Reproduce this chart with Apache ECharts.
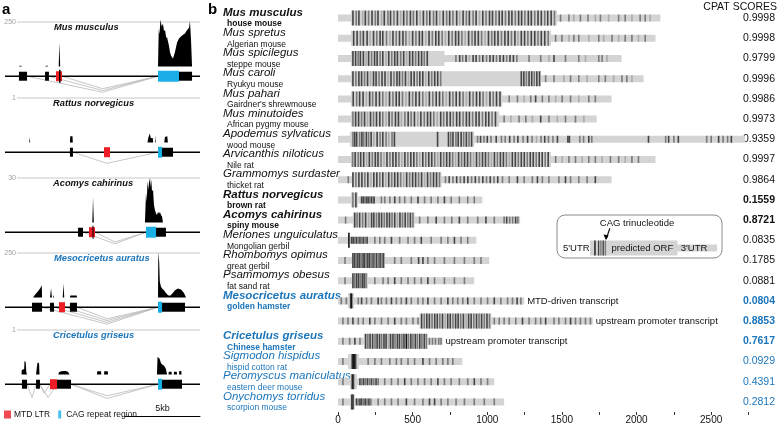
<!DOCTYPE html>
<html><head><meta charset="utf-8">
<script src="https://cdn.jsdelivr.net/npm/echarts@6/dist/echarts.min.js"></script>
<style>html,body{margin:0;padding:0;background:#fff}#c{width:778px;height:425px}</style>
</head><body><div id="c"></div>
<script>
// ================= Panel b data =================
const speciesNames = ['Mus musculus','Mus spretus','Mus spicilegus','Mus caroli','Mus pahari','Mus minutoides','Apodemus sylvaticus','Arvicanthis niloticus','Grammomys surdaster','Rattus norvegicus','Acomys cahirinus','Meriones unguiculatus','Rhombomys opimus','Psammomys obesus','Mesocricetus auratus','','Cricetulus griseus','Sigmodon hispidus','Peromyscus maniculatus','Onychomys torridus'];
const commonNames = ['house mouse','Algerian mouse','steppe mouse','Ryukyu mouse',"Gairdner's shrewmouse",'African pygmy mouse','wood mouse','Nile rat','thicket rat','brown rat','spiny mouse','Mongolian gerbil','great gerbil','fat sand rat','golden hamster','','Chinese hamster','hispid cotton rat','eastern deer mouse','scorpion mouse'];
const cpatScores = ['0.9998','0.9998','0.9799','0.9996','0.9986','0.9973','0.9359','0.9997','0.9864','0.1559','0.8721','0.0835','0.1785','0.0881','0.0804','0.8853','0.7617','0.0929','0.4391','0.2812'];
const boldRows = [0,9,10,14,16];
const blueRows = [14,15,16,17,18,19];
const boldScoreRows = [9,10,14,15,16];
const annotations = ['','','','','','','','','','','','','','','MTD-driven transcript','upstream promoter transcript','upstream promoter transcript','','',''];
const utrRanges = [[0,2160],[0,2127],[0,1900],[0,2047],[0,1833],[0,1733],[0,2727],[0,2127],[0,1833],[0,967],[0,1220],[0,927],[0,1013],[0,913],[0,1247],[0,1707],[0,700],[0,833],[0,1047],[0,1113]];
const orfRanges = [[87,1467],[87,1427],[87,713],[87,1360],[87,1100],[87,1080],[80,913],[87,1427],[93,693],[87,133],[100,513],[71,76],[93,313],[93,200],[67,107],[547,1027],[173,600],[67,140],[80,127],[80,113]];
const tickLabels = [0,500,1000,1500,2000,2500];
// stripes: flat pairs [position, shade(1 light .. 4 black)]
const stripes = [
 [100,3,122,2,140,3,165,1,183,3,205,2,228,3,250,2,268,3,292,1,310,3,335,2,352,3,375,2,398,3,420,1,440,3,462,2,485,3,505,2,528,3,550,1,572,3,595,2,615,3,640,2,660,3,682,1,705,3,728,2,748,3,770,2,795,3,815,1,838,3,860,2,880,3,905,2,925,3,948,1,970,3,992,2,1015,3,1035,3,1058,2,1080,3,1100,3,1122,2,1145,3,1165,3,1188,2,1210,3,1230,3,1252,2,1275,3,1295,3,1318,2,1340,3,1362,3,1385,2,1405,3,1428,3,1450,2,1491,2,1547,2,1580,1,1624,2,1675,2,1724,1,1758,2,1813,1,1880,2,1924,2,1969,1,2024,2,2058,2,2091,1],
 [105,3,128,3,150,2,170,3,195,3,215,1,238,3,260,2,282,3,300,3,325,2,348,1,368,3,390,2,412,3,435,3,455,2,478,1,500,3,522,2,545,3,565,3,588,1,610,3,632,2,655,3,675,3,698,2,720,1,742,3,765,2,788,3,808,3,830,2,852,1,875,3,898,2,918,3,940,3,962,2,985,1,1008,3,1030,2,1050,3,1072,3,1095,2,1118,3,1140,3,1162,2,1185,3,1205,1,1228,3,1250,3,1272,2,1295,3,1318,3,1340,2,1362,3,1385,3,1408,2,1458,2,1500,2,1547,1,1580,2,1613,2,1680,1,1747,2,1780,1,1836,2,1880,1,1924,2,1969,2,2013,1,2058,2],
 [100,3,118,3,135,2,150,3,170,3,188,1,205,3,225,2,245,3,262,3,282,2,300,3,322,1,340,3,360,2,380,3,398,3,420,2,440,3,460,1,480,3,500,3,520,2,540,3,560,3,578,2,598,3,790,2,815,3,835,2,858,3,880,1,905,3,925,3,948,2,970,3,995,2,1018,3,1040,3,1062,2,1085,3,1108,3,1130,2,1152,3,1175,3,1198,2,1280,2,1358,2,1413,1,1447,3,1524,2,1613,2,1658,1,1747,2,1769,2,1802,1],
 [100,3,120,2,140,3,158,3,178,2,198,3,218,1,238,3,255,3,275,2,295,3,315,3,335,1,355,3,375,2,395,3,412,3,432,2,452,3,472,1,490,3,510,3,530,2,548,3,568,3,588,1,608,3,628,2,648,3,668,3,688,2,1228,3,1245,3,1262,2,1280,3,1298,3,1315,2,1332,3,1350,3,1391,2,1447,2,1513,1,1558,2,1613,2,1669,1,1747,2,1791,2,1847,1,1902,2,1935,2,1969,1],
 [102,3,125,2,145,3,168,3,190,1,212,3,232,2,255,3,278,3,300,2,322,1,345,3,368,2,390,3,410,3,432,2,455,1,478,3,500,2,522,3,545,3,568,2,590,1,612,3,635,2,658,3,680,3,702,2,725,1,748,3,770,2,792,3,815,3,838,2,860,1,882,3,905,2,928,3,950,3,972,2,995,1,1018,3,1040,2,1062,3,1085,3,1147,2,1202,2,1247,1,1291,2,1324,3,1369,2,1413,2,1458,1,1502,2,1558,2,1613,1,1680,2,1724,2],
 [100,2,118,3,138,3,158,2,178,3,198,1,218,3,238,2,258,3,280,3,300,2,322,1,342,3,362,2,385,3,405,3,425,1,448,2,470,3,490,2,512,3,535,1,555,3,578,2,600,3,620,3,642,2,665,1,688,3,708,2,730,3,752,3,772,2,795,3,815,3,838,2,860,3,880,3,902,2,925,3,945,3,968,2,990,3,1010,3,1032,2,1055,3,1113,2,1158,1,1213,2,1258,2,1302,1,1358,3,1413,2,1469,1,1524,2,1591,2,1647,1],
 [100,2,112,3,125,3,145,2,160,3,172,2,190,3,205,2,222,3,240,1,262,3,282,2,300,3,322,2,340,1,362,2,378,3,667,3,740,3,755,2,770,3,790,2,805,3,825,3,842,2,860,3,878,2,895,3,935,2,955,3,978,2,1000,3,1025,2,1060,3,1095,2,1120,2,1150,3,1180,2,1205,3,1240,2,1270,3,1300,2,1330,1,1360,2,1385,3,1410,2,1440,2,1470,3,1540,3,1550,3,1620,2,1645,2,1680,3,1700,2,2080,3,2195,2,2215,3,2250,2,2280,3,2470,2,2500,2,2550,3,2580,2,2610,2,2635,3],
 [98,2,115,3,135,2,152,3,172,3,192,1,210,3,230,2,250,3,268,3,288,2,308,1,328,3,348,2,368,3,388,3,408,2,428,1,448,3,468,2,488,3,508,3,528,2,548,1,568,3,588,2,608,3,628,3,648,2,668,1,688,3,708,2,728,3,748,3,768,2,788,1,808,3,828,2,848,3,868,3,888,2,908,1,928,3,948,2,968,3,988,3,1008,2,1028,1,1048,3,1068,2,1088,3,1108,3,1128,2,1148,1,1168,3,1188,3,1208,2,1228,3,1248,3,1268,2,1288,3,1308,3,1328,2,1348,3,1368,3,1388,2,1408,3,1458,2,1502,1,1547,2,1591,2,1636,1,1680,2,1724,2,1769,1,1825,2,1880,2,1924,1,1969,2,2013,2],
 [69,2,100,3,120,2,140,3,160,3,180,2,200,3,220,1,240,3,260,3,280,2,300,3,320,1,340,3,360,2,380,3,400,3,420,2,440,1,460,3,480,2,500,3,520,3,540,2,560,3,580,1,600,3,620,2,640,3,660,3,680,2,720,2,745,3,770,2,795,3,820,2,845,3,870,3,895,2,920,3,945,2,970,3,995,2,1020,3,1045,2,1070,3,1102,2,1147,2,1202,3,1247,2,1302,2,1336,3,1369,2,1413,2,1480,2,1524,3,1558,2,1613,2,1669,2,1724,3],
 [100,2,120,3,158,3,169,3,180,2,191,3,202,3,213,2,224,3,235,2,242,3,291,2,313,2,347,2,380,3,413,2,447,2,491,2,536,3,580,2,624,2,669,2,713,3,758,2,813,2,869,2,913,2],
 [51,2,112,3,128,2,145,3,165,2,185,3,205,1,225,3,240,3,258,2,275,3,292,3,310,2,328,3,345,3,362,2,380,3,398,1,415,3,432,2,450,3,468,2,485,3,502,2,547,2,602,2,658,3,713,2,762,2,813,3,869,2,936,2,991,3,1047,2,1113,2,1130,3,1150,2,1170,2,1190,3,1205,2],
 [73,4,91,3,102,3,113,2,124,3,135,2,147,3,158,2,170,3,182,2,195,3,247,2,280,2,313,2,358,3,413,2,469,2,513,2,558,3,624,2,691,2,736,2,780,3,824,2,869,2],
 [47,2,100,3,112,3,122,2,133,3,145,3,155,2,168,3,178,3,190,2,200,3,212,3,222,2,235,3,245,2,258,3,270,2,282,3,295,2,305,3,380,2,424,2,491,2,540,3,569,3,602,2,647,2,713,2,780,2,847,2,913,2,958,2],
 [47,2,100,3,112,2,125,3,138,3,150,2,163,3,175,3,188,2,247,2,302,2,336,2,380,3,424,2,469,2,513,2,558,2,602,3,647,2,713,2,780,2,847,2],
 [22,2,56,2,85,3,91,4,136,2,158,3,191,2,224,2,269,3,291,2,324,2,358,3,391,2,424,2,458,3,491,2,536,2,569,2,602,3,647,2,691,2,736,3,769,2,802,2,836,2,869,3,913,2,958,2,1002,2,1047,3,1091,2,1136,2,1169,2,1200,3,1225,2],
 [33,2,67,2,100,3,136,2,169,2,213,3,247,2,291,2,336,2,380,3,424,2,458,2,502,2,536,2,560,3,578,2,595,3,612,3,630,2,648,3,665,3,682,2,700,3,718,1,735,3,752,3,770,2,788,3,805,3,822,2,840,3,858,1,875,3,892,3,910,2,928,3,945,2,962,3,980,2,998,3,1015,2,1047,2,1080,2,1113,2,1147,2,1191,2,1236,3,1280,2,1324,2,1358,2,1391,3,1447,2,1480,2,1524,2,1558,3,1591,2,1624,2,1658,2,1691,2],
 [33,2,78,2,113,3,147,2,185,3,200,2,215,3,232,3,248,2,262,3,278,3,292,2,308,3,322,3,338,1,352,3,368,3,382,2,398,3,412,3,428,2,442,3,458,4,472,2,488,3,502,2,518,3,532,2,548,3,562,2,578,3,592,2,613,2,633,2,653,2,675,2,690,2],
 [33,2,95,3,102,4,110,4,118,3,202,2,247,2,291,2,347,2,391,2,424,2,469,2,513,2,569,3,613,2,658,2,702,2,736,2,769,2],
 [33,2,96,4,104,3,147,3,160,2,172,3,185,2,198,3,212,2,225,3,240,2,255,3,269,2,313,2,358,2,402,2,447,3,491,2,536,2,580,2,624,2,669,3,713,2,758,2,813,2,869,2,913,3,958,2,1002,2],
 [33,2,94,4,101,3,124,3,135,2,147,3,158,3,170,2,182,3,194,2,207,3,220,2,269,2,313,2,358,2,402,2,458,3,513,2,569,2,613,3,647,3,691,2,736,2,791,2,847,2,913,2,980,2,1047,2]
];
// inset legend (units 0..100 of the inset box)
const insetUtr = [20,97];
const insetOrf = [20,73];
const insetStripes = [23,4,25.2,3,26.6,2,28,3,29.3,2];
const insetTexts = [['5\'UTR',3.6],['predicted ORF',33],['3\'UTR',75]];
const insetTitle = 'CAG trinucleotide';

// ================= Panel a data (kb) =================
const trackNames = ['Mus musculus','Rattus norvegicus','Acomys cahirinus','Mesocricetus auratus','Cricetulus griseus'];
const trackScales = [250,1,30,250,1];
const trackScaleLabels = ['250','1','30','250','1'];
const geneSpan = [0,13];
const trackExons = [
 [[0.93,1.47,'k'],[2.67,2.93,'k'],[3.4,3.8,'r'],[3.6,3.7,'l'],[10.2,11.6,'b'],[11.6,12.47,'k']],
 [[4.33,4.53,'k'],[6.6,7.0,'r'],[10.2,10.47,'b'],[10.47,11.2,'k']],
 [[4.87,5.2,'k'],[5.6,6.0,'r'],[5.83,5.9,'l'],[9.4,10.07,'b'],[10.07,10.73,'k']],
 [[1.8,2.47,'k'],[3.0,3.27,'k'],[3.6,4.0,'r'],[4.33,4.8,'k'],[10.2,10.47,'b'],[10.47,12.0,'k']],
 [[1.13,1.47,'k'],[2.07,2.33,'k'],[3.0,3.47,'r'],[3.47,4.4,'k'],[10.2,10.47,'b'],[10.47,11.8,'k']]
];
const trackCoverage = [
 [[[3.58,0],[3.63,134],[3.68,0]],
  [[0.95,0],[0.96,4],[1.1,4],[1.11,0]],[[2.7,0],[2.71,4],[2.85,4],[2.86,0]],
  [[10.2,0],[10.25,210],[10.3,180],[10.36,262],[10.45,225],[10.53,240],[10.6,200],[10.67,205],[10.75,160],[10.8,165],[10.93,116],[11.0,80],[11.07,60],[11.2,45],[11.33,80],[11.47,134],[11.6,157],[11.73,169],[11.87,178],[12.0,186],[12.13,203],[12.27,218],[12.33,255],[12.4,150],[12.47,0]]],
 [[[1.62,0],[1.65,0.12],[1.68,0]],[[4.33,0],[4.35,0.14],[4.5,0.14],[4.52,0]],[[9.5,0],[9.55,0.1],[9.65,0.2],[9.72,0.1],[9.85,0.1],[9.88,0]],[[10.02,0],[10.04,0.16],[10.07,0]],[[10.62,0],[10.66,0.12],[10.82,0.14],[10.86,0]]],
 [[[5.82,0],[5.87,17],[5.92,0]],
  [[9.33,0],[9.4,20],[9.45,14],[9.5,28],[9.55,22],[9.6,27],[9.67,30],[9.7,24],[9.75,29],[9.8,21],[9.87,22],[9.93,12],[10.0,8],[10.07,6],[10.13,5],[10.2,7],[10.27,6],[10.33,7],[10.4,5],[10.47,4],[10.53,0]]],
 [[[1.87,0],[2.0,15],[2.2,35],[2.35,52],[2.45,68],[2.47,0]],[[3.0,0],[3.07,51],[3.13,0]],[[3.2,0],[3.22,14],[3.27,0]],[[3.85,0],[3.9,80],[3.95,0]],[[4.33,0],[4.35,11],[4.78,11],[4.8,0]],
  [[10.2,0],[10.22,255],[10.28,200],[10.32,90],[10.4,60],[10.5,48],[10.6,40],[10.73,25],[10.87,12],[11.0,10],[11.13,20],[11.33,40],[11.53,50],[11.73,45],[11.93,25],[12.07,0]]],
 [[[1.1,0],[1.12,0.1],[1.28,0.12],[1.3,0.3],[1.38,0.28],[1.42,0.05],[1.47,0]],[[2.07,0],[2.12,0.15],[2.17,0.27],[2.27,0.25],[2.3,0]],[[3.55,0],[3.6,0.05],[3.75,0.07],[3.9,0.08],[4.05,0.08],[4.2,0.06],[4.3,0]],
  [[6.13,0],[6.15,0.07],[6.4,0.07],[6.42,0]],[[6.6,0],[6.62,0.07],[6.85,0.07],[6.87,0]],
  [[10.13,0],[10.17,0.39],[10.3,0.36],[10.4,0.25],[10.5,0.22],[10.6,0.2],[10.73,0.12],[10.8,0]],[[10.9,0],[10.92,0.06],[11.1,0.06],[11.12,0]],[[11.25,0],[11.27,0.06],[11.45,0.06],[11.47,0]],[[11.6,0],[11.62,0.08],[11.75,0.08],[11.77,0]]]
];
// junctions: [donor kb, acceptor kb, vertex kb, depth (fraction of scale)]
const trackJunctions = [
 [[1.47,10.2,6.5,-0.58],[2.93,10.2,6.5,-0.54],[3.8,10.2,6.5,-0.5]],
 [[4.53,10.2,6.8,-0.47]],
 [[5.2,9.4,7.33,-0.48],[6.0,9.4,7.33,-0.44]],
 [[2.47,10.2,6.8,-0.6],[3.27,10.2,6.8,-0.56],[4.0,10.2,6.8,-0.52],[4.8,10.2,6.8,-0.48]],
 [[1.47,2.07,1.8,-0.52],[2.33,3.47,2.87,-0.52],[2.33,3.0,2.6,-0.42],[4.4,10.2,6.8,-0.54],[4.4,10.2,6.8,-0.48]]
];

// ================= styling / layout =================
const FONT = "'Liberation Sans', Arial, Helvetica, sans-serif";
const BLUE = '#1b75bb';
const BAR = '#d4d4d4';
const SHADES = [null,'#acacac','#7a7a7a','#444444','#151515'];
const EXON_COL = {k:'#000', r:'#ee1c24', b:'#1aaee6', l:'#000'};
const EXON_HALF = {k:4.5, r:5, b:5.5, l:6.5};
const trackTops = [22,98,178,253,330];
const GENE_Y = -0.22;

function renderRow(params, api) {
  const i = api.value(1);
  const yc = api.coord([0, i])[1];
  const X = v => api.coord([v, i])[0];
  const THIN = 7, THICK = 15;
  const ch = [];
  const u = utrRanges[i], o = orfRanges[i];
  ch.push({type:'rect', shape:{x:X(u[0]), y:yc-THIN/2, width:X(u[1])-X(u[0]), height:THIN}, style:{fill:BAR}});
  ch.push({type:'rect', shape:{x:X(o[0]), y:yc-THICK/2, width:X(o[1])-X(o[0]), height:THICK}, style:{fill:BAR}});
  const s = stripes[i];
  for (let k = 0; k < s.length; k += 2) {
    const p = s[k];
    const h = (p >= o[0] && p <= o[1]) ? THICK : THIN;
    ch.push({type:'rect', shape:{x:X(p)-0.8, y:yc-h/2, width:1.6, height:h}, style:{fill:SHADES[s[k+1]]}});
  }
  if (annotations[i]) ch.push({type:'text', style:{text:annotations[i], x:X(u[1])+3, y:yc, verticalAlign:'middle', fontSize:9.5, fill:'#111', fontFamily:FONT}});
  return {type:'group', children:ch};
}

function makeTrackRenderer(t) {
  return function(params, api) {
    const sc = trackScales[t];
    const P = (x, y) => api.coord([x, y]);
    const ch = [];
    const a = P(0.8, 1), b = P(geneSpan[1], 1);
    ch.push({type:'line', shape:{x1:a[0], y1:a[1], x2:b[0], y2:b[1]}, style:{stroke:'#c9c9c9', lineWidth:1}});
    ch.push({type:'text', style:{text:trackScaleLabels[t], x:a[0]-1, y:a[1], align:'right', verticalAlign:'middle', fontSize:7, fill:'#a0a0a0', fontFamily:FONT}});
    trackCoverage[t].forEach(pk => {
      ch.push({type:'polygon', shape:{points: pk.map(d => P(d[0], d[1]/sc))}, style:{fill:'#000'}});
    });
    trackJunctions[t].forEach(j => {
      ch.push({type:'polyline', shape:{points:[P(j[0], GENE_Y), P(j[2], j[3]), P(j[1], GENE_Y)]}, style:{stroke:'#b8b8b8', lineWidth:0.8, fill:null}});
    });
    const g0 = P(geneSpan[0], GENE_Y), g1 = P(geneSpan[1], GENE_Y);
    ch.push({type:'line', shape:{x1:g0[0], y1:g0[1], x2:g1[0], y2:g1[1]}, style:{stroke:'#000', lineWidth:1.4}});
    trackExons[t].forEach(e => {
      const p0 = P(e[0], GENE_Y), p1 = P(e[1], GENE_Y), hh = EXON_HALF[e[2]];
      ch.push({type:'rect', shape:{x:p0[0], y:p0[1]-hh, width:Math.max(1, p1[0]-p0[0]), height:hh*2}, style:{fill:EXON_COL[e[2]]}});
    });
    return {type:'group', children:ch};
  };
}

function insetRenderer(params, api) {
  const P = (x, y) => api.coord([x, y]);
  const ch = [];
  const tl = P(0,0), br = P(100,100);
  ch.push({type:'rect', shape:{x:tl[0], y:tl[1], width:br[0]-tl[0], height:br[1]-tl[1], r:8}, style:{fill:null, stroke:'#8a8a8a', lineWidth:1}});
  const yc = P(0, 77)[1];
  const u0 = P(insetUtr[0],0)[0], u1 = P(insetUtr[1],0)[0];
  const o0 = P(insetOrf[0],0)[0], o1 = P(insetOrf[1],0)[0];
  ch.push({type:'rect', shape:{x:u0, y:yc-3.5, width:u1-u0, height:7}, style:{fill:BAR}});
  ch.push({type:'rect', shape:{x:o0, y:yc-7.5, width:o1-o0, height:15}, style:{fill:BAR}});
  for (let k = 0; k < insetStripes.length; k += 2) {
    const x = P(insetStripes[k],0)[0];
    ch.push({type:'rect', shape:{x:x-0.7, y:yc-7.5, width:1.4, height:15}, style:{fill:SHADES[insetStripes[k+1]]}});
  }
  insetTexts.forEach(tx => {
    ch.push({type:'text', style:{text:tx[0], x:P(tx[1],0)[0], y:yc, verticalAlign:'middle', fontSize:9.5, fill:'#111', fontFamily:FONT}});
  });
  const tc = P(48.5, 19);
  ch.push({type:'text', style:{text:insetTitle, x:tc[0], y:tc[1], align:'center', verticalAlign:'middle', fontSize:9.5, fill:'#111', fontFamily:FONT}});
  const a0 = P(32, 31), a1 = P(29.8, 56);
  ch.push({type:'line', shape:{x1:a0[0], y1:a0[1], x2:a1[0], y2:a1[1]}, style:{stroke:'#000', lineWidth:1.2}});
  ch.push({type:'polygon', shape:{points:[[a1[0]-2.6,a1[1]-4.5],[a1[0]+2.4,a1[1]-3.8],[a1[0]-0.2,a1[1]+1]]}, style:{fill:'#000'}});
  return {type:'group', children:ch};
}

// ================= option =================
const grids = [{left:338, right:27.5, top:8, bottom:12}];
const xAxes = [{gridIndex:0, type:'value', min:0, max:2750, interval:250,
  axisLine:{show:false}, splitLine:{show:false},
  axisTick:{show:true, length:3, lineStyle:{color:'#333'}},
  axisLabel:{margin:3, fontSize:10, color:'#111', fontFamily:FONT, formatter: v => tickLabels.includes(v) ? String(v) : ''}}];
const rowIdx = speciesNames.map((_, i) => String(i));
const SCI = 11.5;
const yAxes = [
 {gridIndex:0, type:'category', data:rowIdx, inverse:true, axisLine:{show:false}, axisTick:{show:false},
  axisLabel:{interval:0, align:'left', margin:115, fontFamily:FONT,
   formatter:(v, idx) => { if (!speciesNames[idx]) return ''; const k = (blueRows.includes(idx)?'B':'') + (boldRows.includes(idx)?'b':''); return '{s'+k+'|'+speciesNames[idx]+'}\n{c'+k+'|'+commonNames[idx]+'}'; },
   rich:{
    s:{fontSize:SCI, fontStyle:'italic', color:'#111', lineHeight:12, fontFamily:FONT},
    sb:{fontSize:SCI, fontStyle:'italic', fontWeight:'bold', color:'#111', lineHeight:12, fontFamily:FONT},
    sB:{fontSize:SCI, fontStyle:'italic', color:BLUE, lineHeight:12, fontFamily:FONT},
    sBb:{fontSize:SCI, fontStyle:'italic', fontWeight:'bold', color:BLUE, lineHeight:12, fontFamily:FONT},
    c:{fontSize:8.5, color:'#111', lineHeight:11, padding:[0,0,0,4], fontFamily:FONT},
    cb:{fontSize:8.5, fontWeight:'bold', color:'#111', lineHeight:11, padding:[0,0,0,4], fontFamily:FONT},
    cB:{fontSize:8.5, color:BLUE, lineHeight:11, padding:[0,0,0,4], fontFamily:FONT},
    cBb:{fontSize:8.5, fontWeight:'bold', color:BLUE, lineHeight:11, padding:[0,0,0,4], fontFamily:FONT}
   }}},
 {gridIndex:0, type:'category', position:'right', data:rowIdx, inverse:true, axisLine:{show:false}, axisTick:{show:false},
  axisLabel:{interval:0, align:'right', margin:26.5, fontFamily:FONT,
   formatter:(v, idx) => { const k = (blueRows.includes(idx)?'B':'n') + (boldScoreRows.includes(idx)?'b':''); return '{'+k+'|'+cpatScores[idx]+'}'; },
   rich:{
    n:{fontSize:10.5, color:'#111', fontFamily:FONT},
    nb:{fontSize:10.5, fontWeight:'bold', color:'#111', fontFamily:FONT},
    B:{fontSize:10.5, color:BLUE, fontFamily:FONT},
    Bb:{fontSize:10.5, fontWeight:'bold', color:BLUE, fontFamily:FONT}
   }}}
];
const series = [{type:'custom', xAxisIndex:0, yAxisIndex:0, renderItem:renderRow, clip:false,
  data: speciesNames.map((_, i) => [0, i]), encode:{x:0, y:1}, silent:true}];
const titles = [
 {text:'a', left:2, top:2, padding:0, textStyle:{fontSize:15, fontWeight:'bold', color:'#000', fontFamily:FONT}},
 {text:'b', left:208, top:2, padding:0, textStyle:{fontSize:15, fontWeight:'bold', color:'#000', fontFamily:FONT}},
 {text:'CPAT SCORES', right:1, top:2, padding:0, textStyle:{fontSize:10.5, fontWeight:'normal', color:'#111', fontFamily:FONT}}
];
const trackTitleLeft = [54,53,53,54,53];
trackNames.forEach((nm, t) => {
  grids.push({left:5, width:195, top:trackTops[t], height:80});
  xAxes.push({gridIndex:t+1, type:'value', min:0, max:13, show:false});
  yAxes.push({gridIndex:t+1, type:'value', min:-0.8, max:1, show:false});
  series.push({type:'custom', xAxisIndex:t+1, yAxisIndex:t+2, renderItem:makeTrackRenderer(t), clip:false, data:[[0,0]], silent:true});
  titles.push({text:nm, left:trackTitleLeft[t], top:trackTops[t]+0.5, padding:0, textStyle:{fontSize:9.3, fontStyle:'italic', fontWeight:'bold', color: t>=3 ? BLUE : '#111', fontFamily:FONT}});
});
// scale bar (5 kb)
grids.push({left:125, width:75, top:415, height:1});
xAxes.push({gridIndex:6, type:'value', min:0, max:5, position:'top', axisLine:{show:true, lineStyle:{color:'#000', width:1}}, axisTick:{show:false}, axisLabel:{show:false}, splitLine:{show:false},
  name:'5kb', nameLocation:'middle', nameGap:2, nameTextStyle:{fontSize:9, color:'#111', fontFamily:FONT}});
yAxes.push({gridIndex:6, type:'value', show:false});
// inset legend box
grids.push({left:557, top:215, width:165, height:43});
xAxes.push({gridIndex:7, type:'value', min:0, max:100, show:false});
yAxes.push({gridIndex:7, type:'value', min:0, max:100, inverse:true, show:false});
series.push({type:'custom', xAxisIndex:7, yAxisIndex:8, renderItem:insetRenderer, clip:false, data:[[0,0]], silent:true});
// legend dummies
series.push({type:'scatter', name:'MTD LTR', xAxisIndex:1, yAxisIndex:2, data:[], itemStyle:{color:EXON_COL.r}});
series.push({type:'scatter', name:'CAG repeat region', xAxisIndex:1, yAxisIndex:2, data:[], itemStyle:{color:EXON_COL.b}});

const option = {
  animation:false, backgroundColor:'#fff',
  title:titles,
  legend:{left:4, top:410, padding:0, itemWidth:7, itemHeight:8, itemGap:8, selectedMode:false,
    textStyle:{fontSize:8.5, color:'#111', fontFamily:FONT, padding:[0,0,0,-2]},
    data:[{name:'MTD LTR', icon:'rect'}, {name:'CAG repeat region', icon:'path://M0,0h3v8h-3z'}]},
  grid:grids, xAxis:xAxes, yAxis:yAxes, series:series
};
const chart = echarts.init(document.getElementById('c'), null, {renderer:'canvas'});
chart.setOption(option);
</script></body></html>
